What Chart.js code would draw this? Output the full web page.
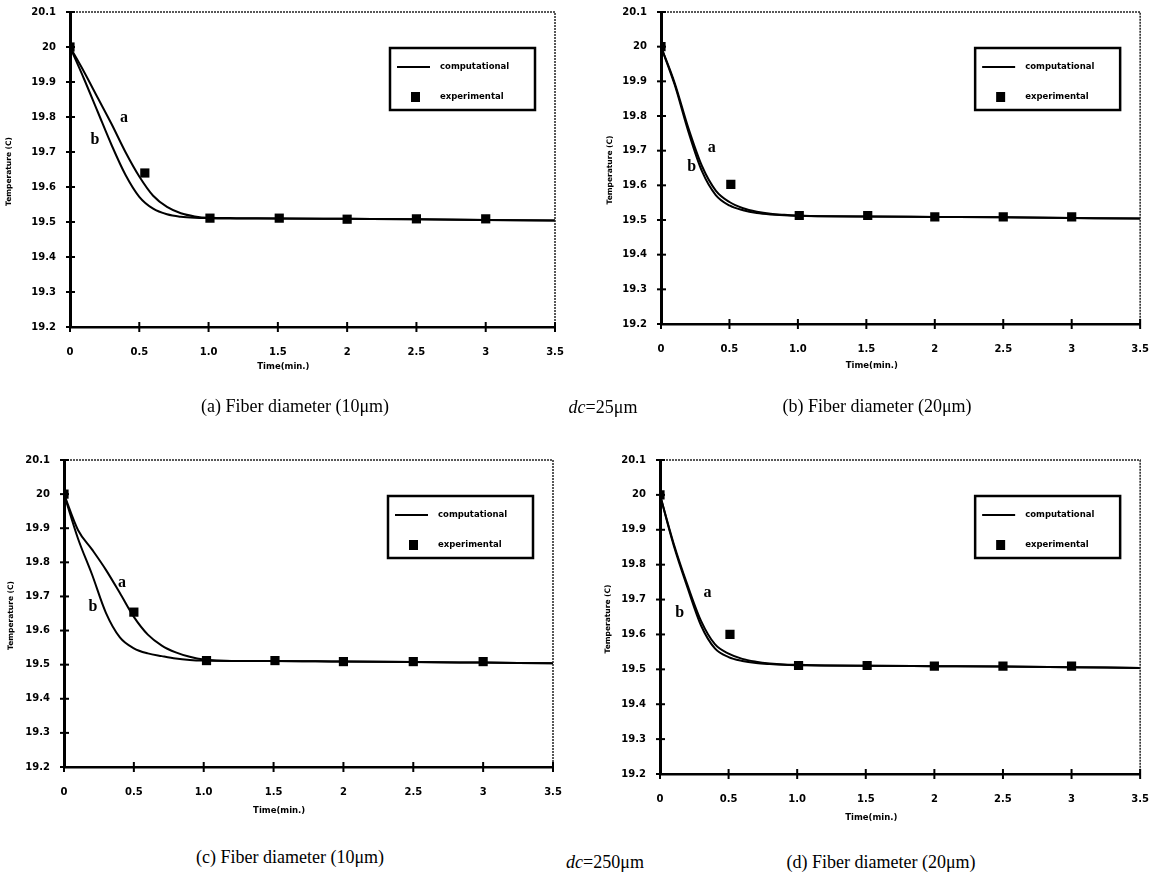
<!DOCTYPE html>
<html><head><meta charset="utf-8">
<script src="https://cdn.jsdelivr.net/npm/chart.js@4.4.1/dist/chart.umd.min.js"></script>
<style>
html,body{margin:0;padding:0;background:#fff;width:1160px;height:875px;overflow:hidden;}
.panel{position:absolute;}
.cap{position:absolute;font-family:"Liberation Serif","Times New Roman",serif;font-size:18px;color:#000;white-space:nowrap;transform:translate(-50%,-50%);}
</style></head><body>
<div class="panel" style="left:0;top:0;"><canvas id="ca" width="580" height="390"></canvas></div>
<div class="panel" style="left:580px;top:0;"><canvas id="cb" width="580" height="390"></canvas></div>
<div class="panel" style="left:0;top:390px;"><canvas id="cc" width="580" height="450"></canvas></div>
<div class="panel" style="left:580px;top:390px;"><canvas id="cd" width="580" height="450"></canvas></div>
<div class="cap" style="left:295px;top:406px;">(a) Fiber diameter (10μm)</div>
<div class="cap" style="left:603px;top:407px;"><i>dc</i>=25μm</div>
<div class="cap" style="left:877px;top:406px;">(b) Fiber diameter (20μm)</div>
<div class="cap" style="left:290px;top:857px;">(c) Fiber diameter (10μm)</div>
<div class="cap" style="left:605px;top:862px;"><i>dc</i>=250μm</div>
<div class="cap" style="left:881px;top:862px;">(d) Fiber diameter (20μm)</div>
<script>
// ---------- data ----------
const xTickValues = [0, 0.5, 1.0, 1.5, 2.0, 2.5, 3.0, 3.5];
const xTickLabels = ['0', '0.5', '1.0', '1.5', '2', '2.5', '3', '3.5'];
const yTickValues = [19.2, 19.3, 19.4, 19.5, 19.6, 19.7, 19.8, 19.9, 20.0, 20.1];
const yTickLabels = ['19.2', '19.3', '19.4', '19.5', '19.6', '19.7', '19.8', '19.9', '20', '20.1'];

const timeGrid = [0, 0.1, 0.2, 0.3, 0.4, 0.5, 0.6, 0.7, 0.8, 0.9, 1.0, 1.2, 1.5, 2.0, 2.5, 3.0, 3.5];

// (a) dc=25um, fiber 10um
const aCurveA = [20.0, 19.93, 19.855, 19.78, 19.70, 19.63, 19.575, 19.543, 19.525, 19.516, 19.512, 19.511, 19.51, 19.509, 19.508, 19.506, 19.504];
const aCurveB = [20.0, 19.91, 19.815, 19.72, 19.635, 19.572, 19.538, 19.522, 19.515, 19.512, 19.511, 19.51, 19.51, 19.509, 19.508, 19.506, 19.504];
const aExpTime = [0, 0.54, 1.01, 1.51, 2.0, 2.5, 3.0];
const aExp = [20.0, 19.64, 19.511, 19.511, 19.508, 19.509, 19.509];

// (b) dc=25um, fiber 20um
const bCurveA = [20.0, 19.895, 19.765, 19.655, 19.585, 19.552, 19.534, 19.524, 19.518, 19.515, 19.513, 19.511, 19.51, 19.509, 19.508, 19.506, 19.504];
const bCurveB = [20.0, 19.89, 19.755, 19.64, 19.572, 19.542, 19.528, 19.52, 19.516, 19.514, 19.512, 19.511, 19.51, 19.509, 19.508, 19.506, 19.504];
const bExpTime = [0, 0.51, 1.01, 1.51, 2.0, 2.5, 3.0];
const bExp = [20.0, 19.603, 19.513, 19.513, 19.509, 19.509, 19.509];

// (c) dc=250um, fiber 10um
const cCurveA = [20.0, 19.895, 19.838, 19.778, 19.71, 19.64, 19.588, 19.556, 19.536, 19.523, 19.515, 19.511, 19.511, 19.509, 19.508, 19.506, 19.504];
const cCurveB = [20.0, 19.87, 19.765, 19.652, 19.58, 19.548, 19.533, 19.525, 19.518, 19.514, 19.512, 19.511, 19.511, 19.509, 19.508, 19.506, 19.504];
const cExpTime = [0, 0.5, 1.02, 1.51, 2.0, 2.5, 3.0];
const cExp = [20.0, 19.654, 19.512, 19.512, 19.509, 19.509, 19.509];

// (d) dc=250um, fiber 20um
const dCurveA = [20.0, 19.86, 19.742, 19.638, 19.572, 19.545, 19.53, 19.522, 19.517, 19.514, 19.513, 19.511, 19.51, 19.509, 19.508, 19.506, 19.504];
const dCurveB = [20.0, 19.855, 19.735, 19.625, 19.56, 19.535, 19.524, 19.518, 19.515, 19.513, 19.512, 19.511, 19.51, 19.509, 19.508, 19.506, 19.504];
const dExpTime = [0, 0.51, 1.01, 1.51, 2.0, 2.5, 3.0];
const dExp = [20.0, 19.6, 19.511, 19.511, 19.509, 19.509, 19.509];

// curve label annotations (text, time, temperature)
const aLabels = [['a', 0.39, 19.797], ['b', 0.18, 19.734]];
const bLabels = [['a', 0.37, 19.708], ['b', 0.224, 19.653]];
const cLabels = [['a', 0.415, 19.741], ['b', 0.208, 19.67]];
const dLabels = [['a', 0.346, 19.72], ['b', 0.144, 19.663]];

const legendTexts = ['computational', 'experimental'];
const xTitle = 'Time(min.)';
const yTitle = 'Temperature (C)';

// ---------- drawing ----------
const pts = (xs, ys) => xs.map((x, i) => ({x: x, y: ys[i]}));

const decor = {
  id: 'decor',
  afterDraw(chart, args, o) {
    const {ctx, chartArea} = chart;
    const {left, right, top, bottom} = chartArea;
    const xs = chart.scales.x, ys = chart.scales.y;
    ctx.save();
    ctx.strokeStyle = '#222'; ctx.lineWidth = 1.5; ctx.setLineDash([2, 1]);
    ctx.beginPath(); ctx.moveTo(left, top); ctx.lineTo(right, top); ctx.lineTo(right, bottom); ctx.stroke();
    ctx.setLineDash([]);
    ctx.strokeStyle = '#000'; ctx.lineWidth = 2;
    ys.ticks.forEach(t => { const y = ys.getPixelForValue(t.value); ctx.beginPath(); ctx.moveTo(left - 4, y); ctx.lineTo(left + 5, y); ctx.stroke(); });
    xs.ticks.forEach(t => { const x = xs.getPixelForValue(t.value); ctx.beginPath(); ctx.moveTo(x, bottom - 5); ctx.lineTo(x, bottom + 5); ctx.stroke(); });
    ctx.fillStyle = '#000';
    ctx.font = 'bold 8.5px "DejaVu Sans"'; ctx.textAlign = 'center'; ctx.textBaseline = 'middle';
    ctx.fillText(xTitle, left + (right - left) * 0.44, bottom + o.xTitleDy);
    ctx.save();
    ctx.translate(left + o.yTitleDx, (top + bottom) / 2 + 2);
    ctx.rotate(-Math.PI / 2);
    ctx.font = 'bold 7.5px "DejaVu Sans"';
    ctx.fillText(yTitle, 0, 0);
    ctx.restore();
    const bx = right - 165, by = top + 36, bw = 145, bh = 62;
    ctx.lineWidth = 2.5; ctx.strokeStyle = '#000';
    ctx.strokeRect(bx, by, bw, bh);
    ctx.lineWidth = 2;
    ctx.beginPath(); ctx.moveTo(bx + 7, by + 19); ctx.lineTo(bx + 40, by + 19); ctx.stroke();
    ctx.fillRect(bx + 21, by + 44, 9, 10);
    ctx.font = 'bold 8.5px "DejaVu Sans"'; ctx.textAlign = 'left';
    ctx.fillText(legendTexts[0], bx + 50, by + 19);
    ctx.fillText(legendTexts[1], bx + 50, by + 49);
    ctx.font = 'bold 16px "Liberation Serif"'; ctx.textAlign = 'center';
    o.labels.forEach(l => ctx.fillText(l[0], xs.getPixelForValue(l[1]), ys.getPixelForValue(l[2])));
    ctx.restore();
  }
};

function makeChart(id, w, h, area, curveA, curveB, expT, expV, labels, xTitleDy, yTitleDx) {
  const lineDs = (arr) => ({
    data: pts(timeGrid, arr), showLine: true, borderColor: '#000', borderWidth: 2,
    pointRadius: 0, cubicInterpolationMode: 'monotone', fill: false
  });
  new Chart(document.getElementById(id), {
    type: 'scatter',
    data: {
      datasets: [
        lineDs(curveA), lineDs(curveB),
        {data: pts(expT, expV), showLine: false, pointStyle: 'rect', pointRadius: 6.5,
         backgroundColor: '#000', borderColor: '#000', borderWidth: 0}
      ]
    },
    options: {
      responsive: false, animation: false, devicePixelRatio: 1,
      layout: {padding: {left: 0, top: area.t, right: w - area.r, bottom: 0}},
      plugins: {legend: {display: false}, tooltip: {enabled: false}, decor: {labels, xTitleDy, yTitleDx}},
      scales: {
        x: {
          type: 'linear', min: 0, max: 3.5,
          afterBuildTicks: s => { s.ticks = xTickValues.map(v => ({value: v})); },
          afterFit: s => { s.height = h - area.b; },
          grid: {display: false},
          border: {display: true, color: '#000', width: 2.5},
          ticks: {callback: (v, i) => xTickLabels[i], color: '#000', padding: 11, maxRotation: 0,
                  font: {family: 'DejaVu Sans', size: 10, weight: 'bold'}}
        },
        y: {
          type: 'linear', min: 19.2, max: 20.1,
          afterBuildTicks: s => { s.ticks = yTickValues.map(v => ({value: v})); },
          afterFit: s => { s.width = area.l; },
          grid: {display: false},
          border: {display: true, color: '#000', width: 3},
          ticks: {callback: (v, i) => yTickLabels[i], color: '#000', padding: 6,
                  font: {family: 'DejaVu Sans', size: 10, weight: 'bold'}}
        }
      }
    },
    plugins: [decor]
  });
}

makeChart('ca', 580, 390, {l: 70, r: 555, t: 12, b: 327}, aCurveA, aCurveB, aExpTime, aExp, aLabels, 40, -61);
makeChart('cb', 580, 390, {l: 81, r: 566, t: 12, b: 324}, bCurveA, bCurveB, bExpTime, bExp, bLabels, 42, -51);
makeChart('cc', 580, 450, {l: 64, r: 553, t: 70, b: 377}, cCurveA, cCurveB, cExpTime, cExp, cLabels, 44, -53);
makeChart('cd', 580, 450, {l: 80, r: 565, t: 70, b: 384}, dCurveA, dCurveB, dExpTime, dExp, dLabels, 44, -52);
</script>
</body></html>
